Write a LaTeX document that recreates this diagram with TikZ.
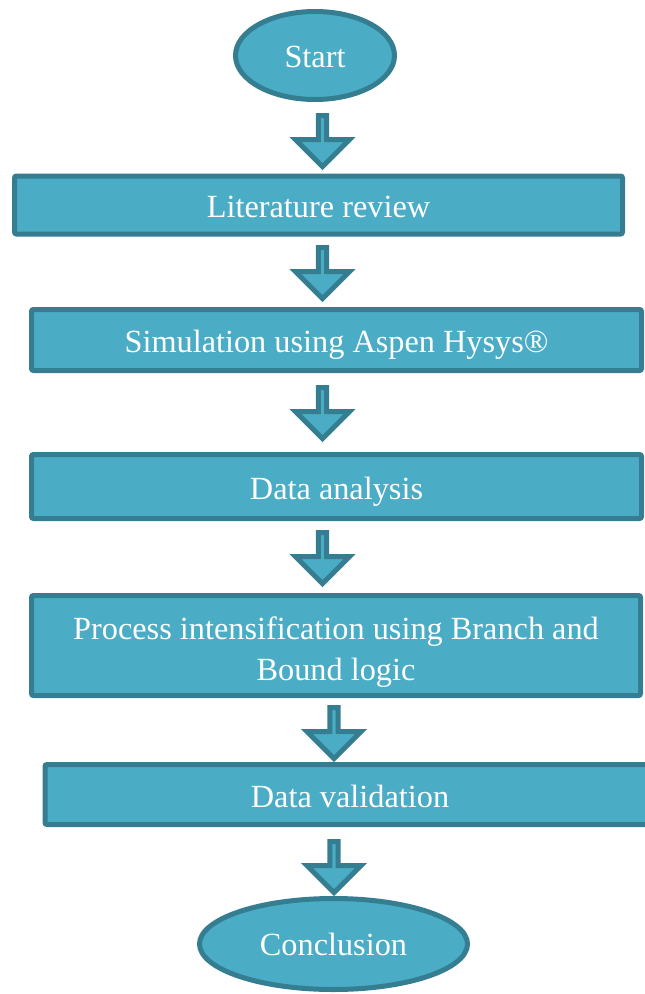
\documentclass[tikz,border=0pt]{standalone}
\usepackage{fontspec}
\setmainfont{Liberation Serif}
\usetikzlibrary{shapes.geometric,shapes.arrows}
\definecolor{boxfill}{HTML}{4BACC6}
\definecolor{boxline}{HTML}{357D91}
\begin{document}
\begin{tikzpicture}[x=1pt,y=-1pt,
  every node/.style={line width=5pt, draw=boxline, fill=boxfill, text=white,
    font=\fontsize{32.3}{41}\selectfont, inner sep=0pt},
  stepbox/.style={rectangle, rounded corners=2pt, text height=25pt, text depth=0pt},
  term/.style={ellipse, text height=23pt, text depth=0pt},
  blockarrow/.style={single arrow, rotate=-90, minimum height=51pt,
    minimum width=54pt, single arrow head extend=14pt, single arrow tip angle=90},
]
\useasboundingbox (0,0) rectangle (645,994);
\node[term, minimum width=159pt, minimum height=88pt] (start) at (315,55.5) {Start};
\node[stepbox, minimum width=608pt, minimum height=58pt] (lit) at (318.5,205) {Literature review};
\node[stepbox, minimum width=610pt, minimum height=61pt] (sim) at (336.5,340) {Simulation using Aspen Hysys®};
\node[stepbox, minimum width=610pt, minimum height=64pt] (ana) at (336.5,486.5) {Data analysis};
\node[stepbox, minimum width=609pt, minimum height=100pt, text height=22pt, text depth=35pt] (pi) at (336,645.5)
  {\begin{tabular}[t]{@{}c@{}}Process intensification using Branch and\\Bound logic\end{tabular}};
\node[stepbox, minimum width=610pt, minimum height=60pt] (val) at (350,794.5) {Data validation};
\node[term, minimum width=268pt, minimum height=91pt] (conc) at (333.5,944) {Conclusion};
\node[blockarrow] (a1) at (322.5,139) {};
\node[blockarrow] (a2) at (322.5,271) {};
\node[blockarrow] (a3) at (322.5,411) {};
\node[blockarrow] (a4) at (322.5,556) {};
\node[blockarrow] (a5) at (334,731) {};
\node[blockarrow] (a6) at (334,865) {};
\end{tikzpicture}
\end{document}
